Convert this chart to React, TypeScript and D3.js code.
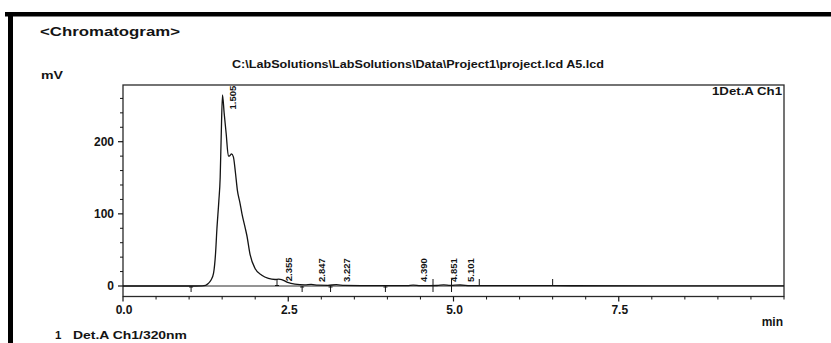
import React from "react";
import * as d3 from "d3";

// Chromatogram trace (retention time in min, signal in mV)
const times = [0, 1.0, 1.2, 1.25, 1.29, 1.33, 1.37, 1.40, 1.42, 1.45, 1.47, 1.485, 1.505, 1.53, 1.56, 1.595, 1.62, 1.64, 1.67, 1.70, 1.73, 1.77, 1.80, 1.85, 1.874, 1.924, 2.0, 2.1, 2.2, 2.3, 2.355, 2.4, 2.48, 2.6, 2.75, 2.847, 2.95, 3.1, 3.227, 3.35, 3.6, 4.0, 4.3, 4.39, 4.5, 4.75, 4.851, 4.95, 5.101, 5.25, 5.5, 6.5, 8.0, 10.0];
const signal = [0, 0, 0.3, 1, 3.5, 8, 18, 45, 78, 118, 150, 205, 265, 240, 212, 180, 181, 183, 179, 158, 133, 115, 100, 80, 70, 43, 24, 15, 10.5, 9, 9.5, 9, 5.5, 2.5, 1.5, 2.2, 1.2, 1, 1.8, 0.8, 0.6, 0.5, 0.6, 1.3, 0.6, 0.7, 1.6, 0.8, 1.4, 0.6, 0.5, 0.4, 0.3, 0.3];

// Peak labels
const peakTimes = [1.505, 2.355, 2.847, 3.227, 4.390, 4.851, 5.101];
const peakHeights = [265, 9.3, 2.2, 1.8, 1.3, 1.6, 1.4];
const peakLabels = ["1.505", "2.355", "2.847", "3.227", "4.390", "4.851", "5.101"];

// Integration markers
const markerTimes = [1.03, 2.33, 2.71, 3.14, 3.97, 4.69, 4.97, 5.39, 6.5];
const markerKinds = ["down", "up", "down", "down", "down", "both", "both", "up", "up"];

// Axis ticks
const xMajorTicks = [0, 2.5, 5.0, 7.5];
const xMajorLabels = ["0.0", "2.5", "5.0", "7.5"];
const yMajorTicks = [0, 100, 200];
const yMajorLabels = ["0", "100", "200"];

const W = 831;
const H = 343;
const FONT = "'Liberation Sans', Arial, sans-serif";
const INK = "#141414";

export default function App() {
  const left = 123, right = 784, top = 85, bottom = 296.5;
  const x = d3.scaleLinear().domain([0, 10]).range([left, right]);
  const y = d3.scaleLinear().domain([-14.55, 278.6]).range([bottom, top]);

  const pts = times.map((t, i) => [t, signal[i]] as [number, number]);
  const line = d3.line<[number, number]>().x(d => x(d[0])).y(d => y(d[1])).curve(d3.curveMonotoneX);

  const xMinor = d3.range(0, 10.001, 0.5).filter(v => !xMajorTicks.some(m => Math.abs(m - v) < 1e-6));
  const yMinor = d3.range(20, 270, 20).filter(v => !yMajorTicks.includes(v));
  const y0 = y(0);

  return (
    <svg width={W} height={H} style={{ position: "absolute", left: 0, top: 0, background: "#fff" }} fontFamily={FONT}>
      {/* page scan borders */}
      <rect x={5} y={12} width={W - 5} height={4.5} fill="#000" />
      <rect x={8} y={12} width={5} height={H - 12} fill="#000" />

      <text x={40} y={36} fontSize={12} fontWeight="bold" fill={INK} textLength={140} lengthAdjust="spacingAndGlyphs">&lt;Chromatogram&gt;</text>
      <text x={232} y={68} fontSize={10.5} fontWeight="bold" fill={INK} textLength={372} lengthAdjust="spacingAndGlyphs">C:\LabSolutions\LabSolutions\Data\Project1\project.lcd A5.lcd</text>
      <text x={41} y={79} fontSize={11} fontWeight="bold" fill={INK} textLength={22} lengthAdjust="spacingAndGlyphs">mV</text>

      {/* frame */}
      <rect x={left} y={top} width={right - left} height={bottom - top} fill="none" stroke="#2a2a2a" strokeWidth={1.3} />
      <text x={782} y={95} fontSize={10.5} fontWeight="bold" textAnchor="end" fill={INK} textLength={70} lengthAdjust="spacingAndGlyphs">1Det.A Ch1</text>

      {/* y ticks */}
      {yMajorTicks.map((v, i) => (
        <g key={"ym" + v}>
          <line x1={left - 5} x2={left} y1={y(v)} y2={y(v)} stroke={INK} strokeWidth={1.2} />
          <text x={114} y={y(v) + 4.2} fontSize={12} fontWeight="bold" textAnchor="end" fill={INK}>{yMajorLabels[i]}</text>
        </g>
      ))}
      {yMinor.map(v => (
        <line key={"yn" + v} x1={left - 3} x2={left} y1={y(v)} y2={y(v)} stroke={INK} strokeWidth={1} />
      ))}

      {/* x ticks */}
      {xMajorTicks.map((v, i) => (
        <g key={"xm" + v}>
          <line x1={x(v)} x2={x(v)} y1={bottom} y2={bottom + 5} stroke={INK} strokeWidth={1.2} />
          <text x={x(v) + 1} y={313.5} fontSize={12} fontWeight="bold" textAnchor="middle" fill={INK}>{xMajorLabels[i]}</text>
        </g>
      ))}
      {xMinor.map(v => (
        <line key={"xn" + v} x1={x(v)} x2={x(v)} y1={bottom} y2={bottom + 3} stroke={INK} strokeWidth={1} />
      ))}

      {/* zero baseline */}
      <line x1={left} x2={right} y1={y0} y2={y0} stroke="#2a2a2a" strokeWidth={1.2} />

      {/* trace */}
      <path d={line(pts) || ""} fill="none" stroke={INK} strokeWidth={1.3} />

      {/* integration markers */}
      {markerTimes.map((t, i) => {
        const k = markerKinds[i];
        const ya = k === "down" ? y0 : y0 - 7;
        const yb = k === "up" ? y0 : y0 + 6;
        return (
          <g key={"mk" + i} stroke={INK} strokeWidth={1}>
            <line x1={x(t)} x2={x(t)} y1={ya} y2={yb} />
            <line x1={x(t) - 2} x2={x(t) + 2} y1={k === "down" ? y0 + 1 : y0 - 0.5} y2={k === "down" ? y0 + 1 : y0 - 0.5} />
          </g>
        );
      })}

      {/* peak labels */}
      {peakTimes.map((t, i) => {
        const len = 23;
        let start = Math.min(y(peakHeights[i]) + 2, y0 - 4);
        if (start - len < top + 1.5) start = top + 1.5 + len;
        const px = x(t) + 13.5;
        return (
          <text key={"pl" + i} transform={`translate(${px},${start}) rotate(-90)`} fontSize={9.5} fontWeight="bold" fill={INK}>{peakLabels[i]}</text>
        );
      })}

      <text x={783} y={326} fontSize={12} fontWeight="bold" textAnchor="end" fill={INK}>min</text>
      <text x={55} y={339} fontSize={11.5} fontWeight="bold" fill={INK}>1</text>
      <text x={73} y={339} fontSize={11.5} fontWeight="bold" fill={INK} textLength={114} lengthAdjust="spacingAndGlyphs">Det.A Ch1/320nm</text>
    </svg>
  );
}
